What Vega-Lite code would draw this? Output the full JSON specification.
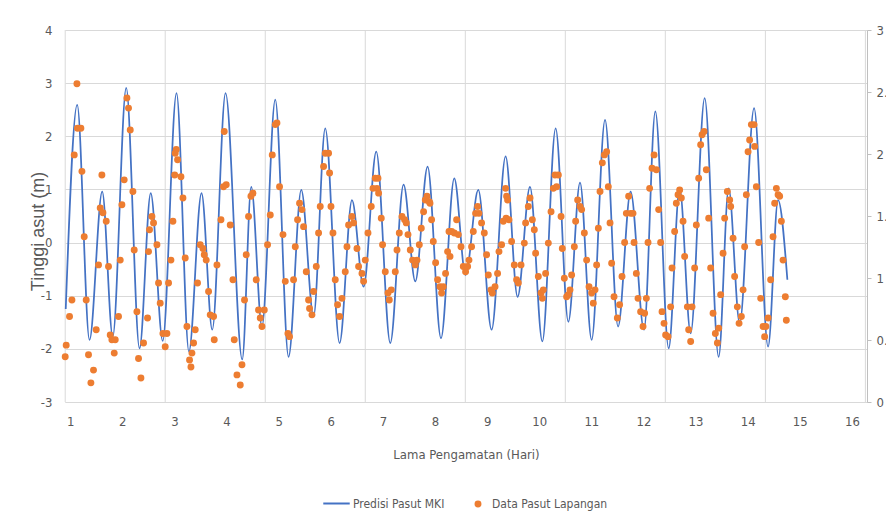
{
  "$schema": "https://vega.github.io/schema/vega-lite/v6.json",
  "width": 802,
  "height": 372,
  "autosize": {"type": "none"},
  "padding": {"left": 65, "top": 30, "right": 19, "bottom": 122},
  "background": "white",
  "config": {
    "view": {"stroke": null},
    "font": "Liberation Sans Narrow, DejaVu Sans Condensed, Liberation Sans, sans-serif",
    "axis": {"labelFont": "Liberation Sans Narrow, DejaVu Sans Condensed, Liberation Sans, sans-serif", "titleFont": "Liberation Sans Narrow, DejaVu Sans Condensed, Liberation Sans, sans-serif", "labelColor": "#595959", "titleColor": "#595959", "titleFontWeight": "normal"},
    "legend": {"labelFont": "Liberation Sans Narrow, DejaVu Sans Condensed, Liberation Sans, sans-serif", "labelColor": "#595959"}
  },
  "datasets": {
    "grid": [{"g": 0.904}, {"g": 2.823}, {"g": 4.743}, {"g": 6.662}, {"g": 8.582}, {"g": 10.501}, {"g": 12.42}, {"g": 14.34}, {"g": 16.259}],
    "pred": [
      {"d": 0.914, "h": -1.25}, {"d": 1.134, "h": 2.59}, {"d": 1.37, "h": -1.83}, {"d": 1.614, "h": 0.96}, {"d": 1.816, "h": -1.77},
      {"d": 2.075, "h": 2.91}, {"d": 2.33, "h": -1.99}, {"d": 2.545, "h": 0.93}, {"d": 2.775, "h": -1.85}, {"d": 3.04, "h": 2.81},
      {"d": 3.278, "h": -2.05}, {"d": 3.52, "h": 0.93}, {"d": 3.726, "h": -1.64}, {"d": 3.981, "h": 2.81}, {"d": 4.301, "h": -2.2},
      {"d": 4.474, "h": 1.05}, {"d": 4.679, "h": -1.58}, {"d": 4.935, "h": 2.69}, {"d": 5.19, "h": -2.15}, {"d": 5.434, "h": 0.99},
      {"d": 5.67, "h": -1.39}, {"d": 5.894, "h": 2.15}, {"d": 6.169, "h": -1.89}, {"d": 6.407, "h": 0.8}, {"d": 6.63, "h": -0.83},
      {"d": 6.873, "h": 1.71}, {"d": 7.142, "h": -1.89}, {"d": 7.397, "h": 1.09}, {"d": 7.622, "h": -0.73}, {"d": 7.858, "h": 1.43},
      {"d": 8.115, "h": -1.8}, {"d": 8.37, "h": 1.21}, {"d": 8.587, "h": -0.61}, {"d": 8.831, "h": 0.99}, {"d": 9.086, "h": -1.64},
      {"d": 9.355, "h": 1.62}, {"d": 9.585, "h": -1.02}, {"d": 9.823, "h": 1.05}, {"d": 10.06, "h": -1.86}, {"d": 10.315, "h": 2.15},
      {"d": 10.559, "h": -1.49}, {"d": 10.783, "h": 1.13}, {"d": 11.006, "h": -1.83}, {"d": 11.263, "h": 2.31}, {"d": 11.513, "h": -1.58},
      {"d": 11.754, "h": 0.96}, {"d": 12.011, "h": -1.64}, {"d": 12.228, "h": 2.47}, {"d": 12.484, "h": -1.99}, {"d": 12.695, "h": 1.02},
      {"d": 12.906, "h": -1.71}, {"d": 13.175, "h": 2.72}, {"d": 13.443, "h": -2.15}, {"d": 13.635, "h": 1.02}, {"d": 13.847, "h": -1.52},
      {"d": 14.123, "h": 2.53}, {"d": 14.392, "h": -1.96}, {"d": 14.583, "h": 0.8}, {"d": 14.762, "h": -0.7}
    ],
    "obs": [
      {"d": 0.904, "h": -2.15}, {"d": 0.923, "h": -1.93}, {"d": 0.987, "h": -1.39}, {"d": 1.033, "h": -1.08}, {"d": 1.077, "h": 1.65},
      {"d": 1.129, "h": 2.99}, {"d": 1.14, "h": 2.15}, {"d": 1.205, "h": 2.15}, {"d": 1.225, "h": 1.34}, {"d": 1.269, "h": 0.11},
      {"d": 1.307, "h": -1.08}, {"d": 1.351, "h": -2.11}, {"d": 1.397, "h": -2.64}, {"d": 1.447, "h": -2.4}, {"d": 1.499, "h": -1.64},
      {"d": 1.543, "h": -0.42}, {"d": 1.576, "h": 0.65}, {"d": 1.608, "h": 1.27}, {"d": 1.628, "h": 0.56}, {"d": 1.691, "h": 0.4},
      {"d": 1.735, "h": -0.45}, {"d": 1.768, "h": -1.74}, {"d": 1.8, "h": -1.83}, {"d": 1.845, "h": -2.08}, {"d": 1.864, "h": -1.83},
      {"d": 1.927, "h": -1.39}, {"d": 1.96, "h": -0.33}, {"d": 1.992, "h": 0.71}, {"d": 2.036, "h": 1.18}, {"d": 2.088, "h": 2.72},
      {"d": 2.119, "h": 2.53}, {"d": 2.152, "h": 2.12}, {"d": 2.203, "h": 0.96}, {"d": 2.228, "h": -0.14}, {"d": 2.28, "h": -1.3},
      {"d": 2.311, "h": -2.18}, {"d": 2.357, "h": -2.55}, {"d": 2.407, "h": -1.89}, {"d": 2.484, "h": -1.42}, {"d": 2.503, "h": -0.17},
      {"d": 2.522, "h": 0.24}, {"d": 2.568, "h": 0.49}, {"d": 2.599, "h": 0.37}, {"d": 2.664, "h": -0.04}, {"d": 2.695, "h": -0.76},
      {"d": 2.727, "h": -1.14}, {"d": 2.779, "h": -1.71}, {"d": 2.823, "h": -1.96}, {"d": 2.856, "h": -1.71}, {"d": 2.887, "h": -0.76},
      {"d": 2.933, "h": -0.33}, {"d": 2.971, "h": 0.4}, {"d": 3.015, "h": 1.68}, {"d": 3.005, "h": 1.27}, {"d": 3.035, "h": 1.75},
      {"d": 3.06, "h": 1.56}, {"d": 3.125, "h": 1.24}, {"d": 3.163, "h": 0.84}, {"d": 3.207, "h": -0.29}, {"d": 3.24, "h": -1.58},
      {"d": 3.29, "h": -2.21}, {"d": 3.317, "h": -2.34}, {"d": 3.336, "h": -2.08}, {"d": 3.367, "h": -1.89}, {"d": 3.399, "h": -1.64},
      {"d": 3.443, "h": -0.76}, {"d": 3.495, "h": -0.04}, {"d": 3.547, "h": -0.11}, {"d": 3.572, "h": -0.23}, {"d": 3.61, "h": -0.33},
      {"d": 3.655, "h": -0.92}, {"d": 3.687, "h": -1.36}, {"d": 3.751, "h": -1.39}, {"d": 3.764, "h": -1.83}, {"d": 3.816, "h": -0.42},
      {"d": 3.893, "h": 0.43}, {"d": 3.942, "h": 1.05}, {"d": 3.956, "h": 2.09}, {"d": 3.994, "h": 1.09}, {"d": 4.071, "h": 0.33},
      {"d": 4.123, "h": -0.7}, {"d": 4.148, "h": -1.83}, {"d": 4.2, "h": -2.49}, {"d": 4.263, "h": -2.68}, {"d": 4.296, "h": -2.3},
      {"d": 4.345, "h": -1.08}, {"d": 4.378, "h": -0.23}, {"d": 4.422, "h": 0.49}, {"d": 4.468, "h": 0.87}, {"d": 4.507, "h": 0.93},
      {"d": 4.57, "h": -0.7}, {"d": 4.614, "h": -1.27}, {"d": 4.647, "h": -1.42}, {"d": 4.68, "h": -1.58}, {"d": 4.724, "h": -1.27},
      {"d": 4.787, "h": -0.04}, {"d": 4.839, "h": 0.52}, {"d": 4.877, "h": 1.65}, {"d": 4.935, "h": 2.22}, {"d": 4.967, "h": 2.25},
      {"d": 5.017, "h": 1.05}, {"d": 5.083, "h": 0.15}, {"d": 5.127, "h": -0.73}, {"d": 5.178, "h": -1.71}, {"d": 5.209, "h": -1.77},
      {"d": 5.286, "h": -0.7}, {"d": 5.319, "h": -0.08}, {"d": 5.363, "h": 0.43}, {"d": 5.401, "h": 0.74}, {"d": 5.447, "h": 0.62},
      {"d": 5.478, "h": 0.3}, {"d": 5.53, "h": -0.55}, {"d": 5.574, "h": -1.08}, {"d": 5.593, "h": -1.24}, {"d": 5.639, "h": -1.36},
      {"d": 5.67, "h": -0.92}, {"d": 5.722, "h": -0.45}, {"d": 5.766, "h": 0.18}, {"d": 5.798, "h": 0.68}, {"d": 5.862, "h": 1.43},
      {"d": 5.894, "h": 1.68}, {"d": 5.958, "h": 1.68}, {"d": 5.977, "h": 1.31}, {"d": 6.004, "h": 0.68}, {"d": 6.042, "h": 0.18},
      {"d": 6.086, "h": -0.7}, {"d": 6.131, "h": -1.17}, {"d": 6.169, "h": -1.39}, {"d": 6.215, "h": -1.05}, {"d": 6.278, "h": -0.55},
      {"d": 6.311, "h": -0.08}, {"d": 6.342, "h": 0.33}, {"d": 6.407, "h": 0.49}, {"d": 6.438, "h": 0.37}, {"d": 6.503, "h": -0.11},
      {"d": 6.534, "h": -0.45}, {"d": 6.599, "h": -0.58}, {"d": 6.63, "h": -0.73}, {"d": 6.662, "h": -0.33}, {"d": 6.714, "h": 0.18},
      {"d": 6.777, "h": 0.68}, {"d": 6.81, "h": 1.02}, {"d": 6.854, "h": 1.21}, {"d": 6.906, "h": 1.21}, {"d": 6.887, "h": 1.02},
      {"d": 6.918, "h": 0.93}, {"d": 6.969, "h": 0.46}, {"d": 6.994, "h": -0.04}, {"d": 7.046, "h": -0.55}, {"d": 7.098, "h": -0.95},
      {"d": 7.123, "h": -1.08}, {"d": 7.161, "h": -0.89}, {"d": 7.238, "h": -0.55}, {"d": 7.271, "h": -0.14}, {"d": 7.315, "h": 0.18},
      {"d": 7.367, "h": 0.49}, {"d": 7.417, "h": 0.43}, {"d": 7.449, "h": 0.37}, {"d": 7.482, "h": 0.15}, {"d": 7.526, "h": -0.14},
      {"d": 7.57, "h": -0.33}, {"d": 7.622, "h": -0.42}, {"d": 7.655, "h": -0.33}, {"d": 7.699, "h": -0.04}, {"d": 7.737, "h": 0.27},
      {"d": 7.781, "h": 0.58}, {"d": 7.814, "h": 0.8}, {"d": 7.846, "h": 0.87}, {"d": 7.891, "h": 0.77}, {"d": 7.904, "h": 0.74},
      {"d": 7.935, "h": 0.43}, {"d": 7.967, "h": 0.02}, {"d": 8.012, "h": -0.38}, {"d": 8.05, "h": -0.7}, {"d": 8.096, "h": -0.83},
      {"d": 8.127, "h": -0.95}, {"d": 8.159, "h": -0.83}, {"d": 8.203, "h": -0.58}, {"d": 8.242, "h": -0.17}, {"d": 8.269, "h": 0.21},
      {"d": 8.288, "h": -0.26}, {"d": 8.319, "h": 0.21}, {"d": 8.37, "h": 0.18}, {"d": 8.415, "h": 0.43}, {"d": 8.447, "h": 0.15},
      {"d": 8.499, "h": -0.08}, {"d": 8.543, "h": -0.45}, {"d": 8.587, "h": -0.55}, {"d": 8.626, "h": -0.45}, {"d": 8.652, "h": -0.33},
      {"d": 8.702, "h": -0.08}, {"d": 8.735, "h": 0.21}, {"d": 8.779, "h": 0.55}, {"d": 8.818, "h": 0.68}, {"d": 8.844, "h": 0.55},
      {"d": 8.894, "h": 0.37}, {"d": 8.946, "h": 0.18}, {"d": 8.99, "h": -0.23}, {"d": 9.023, "h": -0.61}, {"d": 9.075, "h": -0.89},
      {"d": 9.1, "h": -0.95}, {"d": 9.152, "h": -0.83}, {"d": 9.201, "h": -0.58}, {"d": 9.228, "h": -0.17}, {"d": 9.278, "h": -0.04},
      {"d": 9.311, "h": 0.4}, {"d": 9.355, "h": 1.02}, {"d": 9.374, "h": 0.87}, {"d": 9.365, "h": 0.46}, {"d": 9.393, "h": 0.8},
      {"d": 9.42, "h": 0.43}, {"d": 9.47, "h": 0.02}, {"d": 9.522, "h": -0.42}, {"d": 9.566, "h": -0.7}, {"d": 9.599, "h": -0.76},
      {"d": 9.651, "h": -0.42}, {"d": 9.714, "h": -0.01}, {"d": 9.739, "h": 0.37}, {"d": 9.791, "h": 0.68}, {"d": 9.824, "h": 0.84},
      {"d": 9.868, "h": 0.43}, {"d": 9.906, "h": 0.24}, {"d": 9.931, "h": -0.2}, {"d": 9.983, "h": -0.64}, {"d": 10.035, "h": -0.95},
      {"d": 10.06, "h": -1.05}, {"d": 10.079, "h": -0.89}, {"d": 10.123, "h": -0.58}, {"d": 10.175, "h": -0.01}, {"d": 10.227, "h": 0.58},
      {"d": 10.271, "h": 1.02}, {"d": 10.303, "h": 1.27}, {"d": 10.334, "h": 1.05}, {"d": 10.367, "h": 1.27}, {"d": 10.419, "h": 0.49},
      {"d": 10.443, "h": -0.11}, {"d": 10.482, "h": -0.67}, {"d": 10.526, "h": -1.02}, {"d": 10.559, "h": -0.98}, {"d": 10.591, "h": -0.89},
      {"d": 10.622, "h": -0.61}, {"d": 10.674, "h": -0.08}, {"d": 10.699, "h": 0.4}, {"d": 10.738, "h": 0.8}, {"d": 10.783, "h": 0.68},
      {"d": 10.814, "h": 0.62}, {"d": 10.866, "h": 0.18}, {"d": 10.91, "h": -0.33}, {"d": 10.956, "h": -0.83}, {"d": 11.006, "h": -0.95},
      {"d": 11.038, "h": -1.14}, {"d": 11.071, "h": -0.89}, {"d": 11.102, "h": -0.42}, {"d": 11.135, "h": 0.27}, {"d": 11.167, "h": 0.96},
      {"d": 11.211, "h": 1.5}, {"d": 11.25, "h": 1.65}, {"d": 11.294, "h": 1.71}, {"d": 11.326, "h": 1.05}, {"d": 11.359, "h": 0.37},
      {"d": 11.39, "h": -0.39}, {"d": 11.436, "h": -1.02}, {"d": 11.499, "h": -1.42}, {"d": 11.543, "h": -1.17}, {"d": 11.589, "h": -0.64},
      {"d": 11.639, "h": 0.0}, {"d": 11.672, "h": 0.55}, {"d": 11.716, "h": 0.87}, {"d": 11.755, "h": 0.55}, {"d": 11.8, "h": 0.55},
      {"d": 11.82, "h": 0.0}, {"d": 11.864, "h": -0.58}, {"d": 11.896, "h": -1.05}, {"d": 11.946, "h": -1.3}, {"d": 11.992, "h": -1.58},
      {"d": 12.023, "h": -1.33}, {"d": 12.056, "h": -1.05}, {"d": 12.088, "h": 0.0}, {"d": 12.119, "h": 1.02}, {"d": 12.165, "h": 1.4},
      {"d": 12.204, "h": 1.65}, {"d": 12.248, "h": 1.37}, {"d": 12.292, "h": 0.62}, {"d": 12.33, "h": 0.0}, {"d": 12.357, "h": -1.3},
      {"d": 12.395, "h": -1.52}, {"d": 12.426, "h": -1.74}, {"d": 12.472, "h": -1.77}, {"d": 12.522, "h": -1.21}, {"d": 12.549, "h": -0.48},
      {"d": 12.599, "h": 0.21}, {"d": 12.631, "h": 0.74}, {"d": 12.664, "h": 0.9}, {"d": 12.695, "h": 0.99}, {"d": 12.727, "h": 0.84},
      {"d": 12.76, "h": 0.4}, {"d": 12.791, "h": -0.26}, {"d": 12.843, "h": -1.21}, {"d": 12.868, "h": -1.64}, {"d": 12.906, "h": -1.86},
      {"d": 12.933, "h": -1.21}, {"d": 12.983, "h": -0.48}, {"d": 13.015, "h": 0.33}, {"d": 13.06, "h": 1.21}, {"d": 13.098, "h": 1.84},
      {"d": 13.125, "h": 2.03}, {"d": 13.164, "h": 2.09}, {"d": 13.207, "h": 1.37}, {"d": 13.252, "h": 0.46}, {"d": 13.29, "h": -0.48},
      {"d": 13.336, "h": -1.33}, {"d": 13.38, "h": -1.71}, {"d": 13.419, "h": -1.89}, {"d": 13.444, "h": -1.61}, {"d": 13.482, "h": -0.98},
      {"d": 13.528, "h": -0.2}, {"d": 13.559, "h": 0.46}, {"d": 13.61, "h": 0.96}, {"d": 13.655, "h": 0.8}, {"d": 13.674, "h": 0.68},
      {"d": 13.72, "h": 0.08}, {"d": 13.75, "h": -0.64}, {"d": 13.802, "h": -1.21}, {"d": 13.835, "h": -1.52}, {"d": 13.879, "h": -1.39},
      {"d": 13.912, "h": -0.89}, {"d": 13.942, "h": -0.08}, {"d": 13.975, "h": 0.9}, {"d": 14.008, "h": 1.71}, {"d": 14.038, "h": 1.93},
      {"d": 14.071, "h": 2.22}, {"d": 14.123, "h": 2.22}, {"d": 14.134, "h": 1.81}, {"d": 14.167, "h": 1.05}, {"d": 14.211, "h": 0.0},
      {"d": 14.25, "h": -1.05}, {"d": 14.296, "h": -1.58}, {"d": 14.326, "h": -1.77}, {"d": 14.349, "h": -1.58}, {"d": 14.392, "h": -1.42},
      {"d": 14.441, "h": -0.7}, {"d": 14.487, "h": 0.11}, {"d": 14.518, "h": 0.74}, {"d": 14.551, "h": 1.02}, {"d": 14.584, "h": 0.9},
      {"d": 14.614, "h": 0.87}, {"d": 14.647, "h": 0.4}, {"d": 14.679, "h": -0.33}, {"d": 14.723, "h": -1.02}, {"d": 14.742, "h": -1.46}
    ],
    "right": [{"r": 0}, {"r": 3}]
  },
  "layer": [
    {
      "layer": [
        {
          "data": {"name": "grid"},
          "mark": {"type": "rule", "color": "#d9d9d9", "strokeWidth": 1},
          "encoding": {
            "x": {
              "field": "g", "type": "quantitative",
              "scale": {"domain": [0.9, 16.29], "nice": false, "zero": false},
              "axis": {
                "values": [1, 2, 3, 4, 5, 6, 7, 8, 9, 10, 11, 12, 13, 14, 15, 16],
                "grid": false, "ticks": false, "domain": true, "domainColor": "#d9d9d9",
                "labelFontSize": 13, "labelPadding": 13, "labelFlush": false,
                "title": "Lama Pengamatan (Hari)", "titleFontSize": 13, "titlePadding": 20
              }
            }
          }
        },
        {
          "mark": {"type": "rule", "color": "#a6a6a6", "strokeWidth": 1.5},
          "encoding": {
            "y": {"datum": 0, "type": "quantitative", "scale": {"domain": [-3, 4], "nice": false, "zero": false}}
          }
        },
        {
          "data": {"name": "pred"},
          "mark": {"type": "line", "strokeWidth": 1.75, "interpolate": "monotone"},
          "encoding": {
            "x": {"field": "d", "type": "quantitative", "scale": {"domain": [0.9, 16.29], "nice": false, "zero": false}},
            "y": {
              "field": "h", "type": "quantitative",
              "scale": {"domain": [-3, 4], "nice": false, "zero": false},
              "axis": {
                "values": [-3, -2, -1, 0, 1, 2, 3, 4],
                "labelExpr": "'' + datum.value",
                "grid": true, "gridColor": "#d9d9d9", "gridWidth": 1,
                "ticks": false, "domain": false,
                "labelFontSize": 13, "labelPadding": 13, "labelFlush": false,
                "title": "Tinggi asut (m)", "titleFont": "Liberation Sans, sans-serif", "titleFontSize": 18,
                "titleAngle": -90, "titleX": -27, "titleY": 201, "titleAlign": "center", "titleBaseline": "middle"
              }
            },
            "stroke": {
              "datum": "Predisi Pasut MKI", "type": "nominal",
              "scale": {"range": ["#4472C4"]},
              "legend": {
                "title": null, "orient": "none", "legendX": 257, "legendY": 459,
                "symbolType": "stroke", "symbolSize": 700, "symbolStrokeWidth": 2,
                "labelFontSize": 12, "labelOffset": 2
              }
            }
          }
        },
        {
          "data": {"name": "obs"},
          "mark": {"type": "point", "filled": true, "size": 48, "opacity": 1},
          "encoding": {
            "x": {"field": "d", "type": "quantitative", "scale": {"domain": [0.9, 16.29], "nice": false, "zero": false}},
            "y": {"field": "h", "type": "quantitative", "scale": {"domain": [-3, 4], "nice": false, "zero": false}},
            "fill": {
              "datum": "Data Pasut Lapangan", "type": "nominal",
              "scale": {"range": ["#ED7D31"]},
              "legend": {
                "title": null, "orient": "none", "legendX": 407, "legendY": 468,
                "symbolType": "circle", "symbolSize": 48, "symbolStrokeWidth": 0,
                "labelFontSize": 12, "labelOffset": 8
              }
            }
          }
        }
      ]
    },
    {
      "data": {"name": "right"},
      "mark": {"type": "point", "opacity": 0},
      "encoding": {
        "y": {
          "field": "r", "type": "quantitative",
          "scale": {"domain": [0, 3], "nice": false, "zero": false},
          "axis": {
            "orient": "right",
            "values": [0, 0.5, 1, 1.5, 2, 2.5, 3],
            "labelExpr": "'' + datum.value",
            "grid": false, "domain": true, "domainColor": "#bfbfbf",
            "ticks": true, "tickColor": "#bfbfbf", "tickSize": 4,
            "labelFontSize": 13, "labelPadding": 5, "labelFlush": false,
            "title": null
          }
        }
      }
    }
  ],
  "resolve": {"scale": {"y": "independent"}}
}
